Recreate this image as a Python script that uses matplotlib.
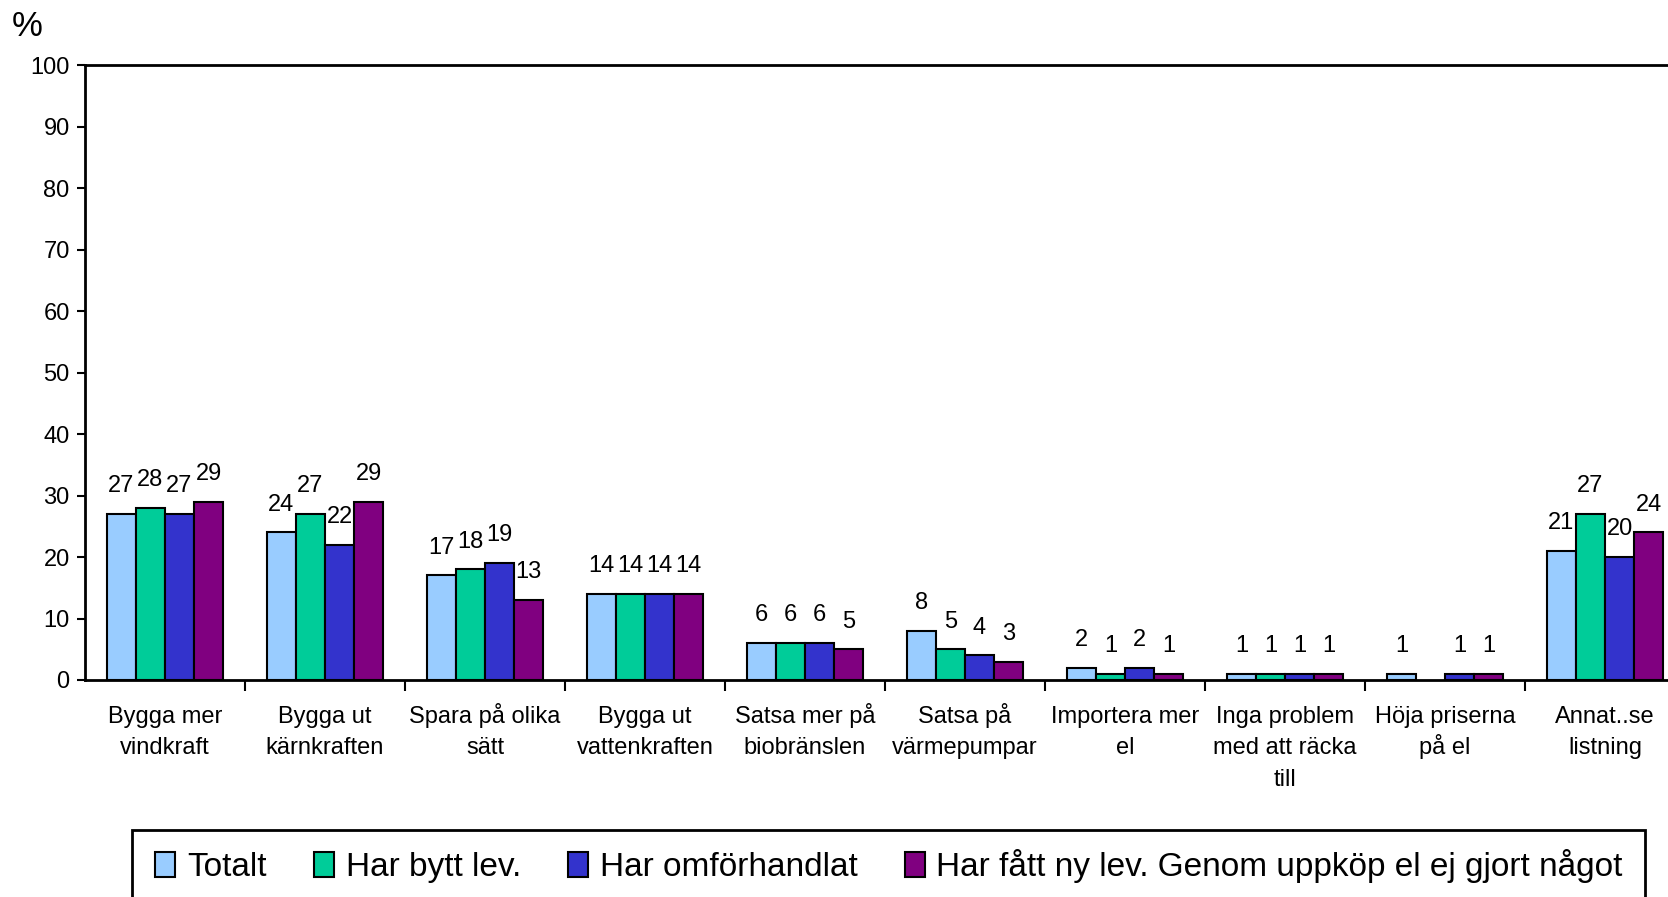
import numpy as np
import matplotlib
matplotlib.use("Agg")
import matplotlib.pyplot as plt
from matplotlib.patches import Rectangle
from matplotlib.transforms import offset_copy

categories = [
    "Bygga mer\nvindkraft",
    "Bygga ut\nkärnkraften",
    "Spara på olika\nsätt",
    "Bygga ut\nvattenkraften",
    "Satsa mer på\nbiobränslen",
    "Satsa på\nvärmepumpar",
    "Importera mer\nel",
    "Inga problem\nmed att räcka\ntill",
    "Höja priserna\npå el",
    "Annat..se\nlistning",
]
series_names = ["Totalt", "Har bytt lev.", "Har omförhandlat",
                "Har fått ny lev. Genom uppköp el ej gjort något"]
totalt = [27, 24, 17, 14, 6, 8, 2, 1, 1, 21]
bytt = [28, 27, 18, 14, 6, 5, 1, 1, np.nan, 27]
omforh = [27, 22, 19, 14, 6, 4, 2, 1, 1, 20]
fatt_ny = [29, 29, 13, 14, 5, 3, 1, 1, 1, 24]
colors = ["#99CCFF", "#00CC99", "#3333CC", "#800080"]

plt.rcParams["font.family"] = ["Liberation Sans", "DejaVu Sans"]

fig = plt.figure(figsize=(16.68, 8.97), dpi=100)
ax = fig.add_axes([85 / 1668, 1 - 680 / 897, 1600 / 1668, 615 / 897])

n = len(categories)
x = np.arange(n)
bw = 0.182
for i, (vals, col) in enumerate(zip([totalt, bytt, omforh, fatt_ny], colors)):
    pos = x + (i - 1.5) * bw
    v = np.array(vals, dtype=float)
    ax.bar(pos, v, width=bw, color=col, edgecolor="black", linewidth=1.5,
           label=series_names[i], zorder=2)
    for px, py in zip(pos, v):
        if np.isnan(py):
            continue
        ax.annotate(f"{int(py)}", (px, py), xytext=(0, 12), textcoords="offset points",
                    ha="center", va="bottom", fontsize=17)

ax.set_xlim(-0.5, n - 0.5)
ax.set_ylim(0, 100)
ax.set_yticks(np.arange(0, 101, 10))
ax.tick_params(axis="y", labelsize=17, direction="out", length=6, width=1.5, pad=5)
ax.set_xticks(np.arange(0.5, n - 0.5, 1))
ax.set_xticklabels([])
ax.tick_params(axis="x", which="major", direction="out", length=8, width=1.5)
for s in ["left", "top", "bottom"]:
    ax.spines[s].set_linewidth(2)
ax.spines["right"].set_visible(False)

# category labels, one line at a time so the baselines stay even
xtrans = ax.get_xaxis_transform()
for xi, lab in zip(x, categories):
    for k, line in enumerate(lab.split("\n")):
        tr = offset_copy(xtrans, fig=fig, x=0, y=-30.7 - k * 22.7, units="points")
        ax.text(xi, 0, line, transform=tr, ha="center", va="baseline", fontsize=17)

fig.text(12 / 1668, 1 - 27 / 897, "%", fontsize=25, va="center", ha="left")

# legend box (extends past the bottom edge)
fig.patches.append(Rectangle((132 / 1668, -0.05), (1645 - 132) / 1668, 0.05 + (897 - 830) / 897,
                             transform=fig.transFigure, fill=False, edgecolor="black",
                             linewidth=2, zorder=5))
fig.legend(loc="center left", bbox_to_anchor=(142 / 1668, 1 - 866 / 897), ncol=4,
           frameon=False, fontsize=24, handlelength=0.6, handleheight=0.8,
           handletextpad=0.35, columnspacing=1.42, borderaxespad=0)

fig.savefig("out.png", dpi=100)
